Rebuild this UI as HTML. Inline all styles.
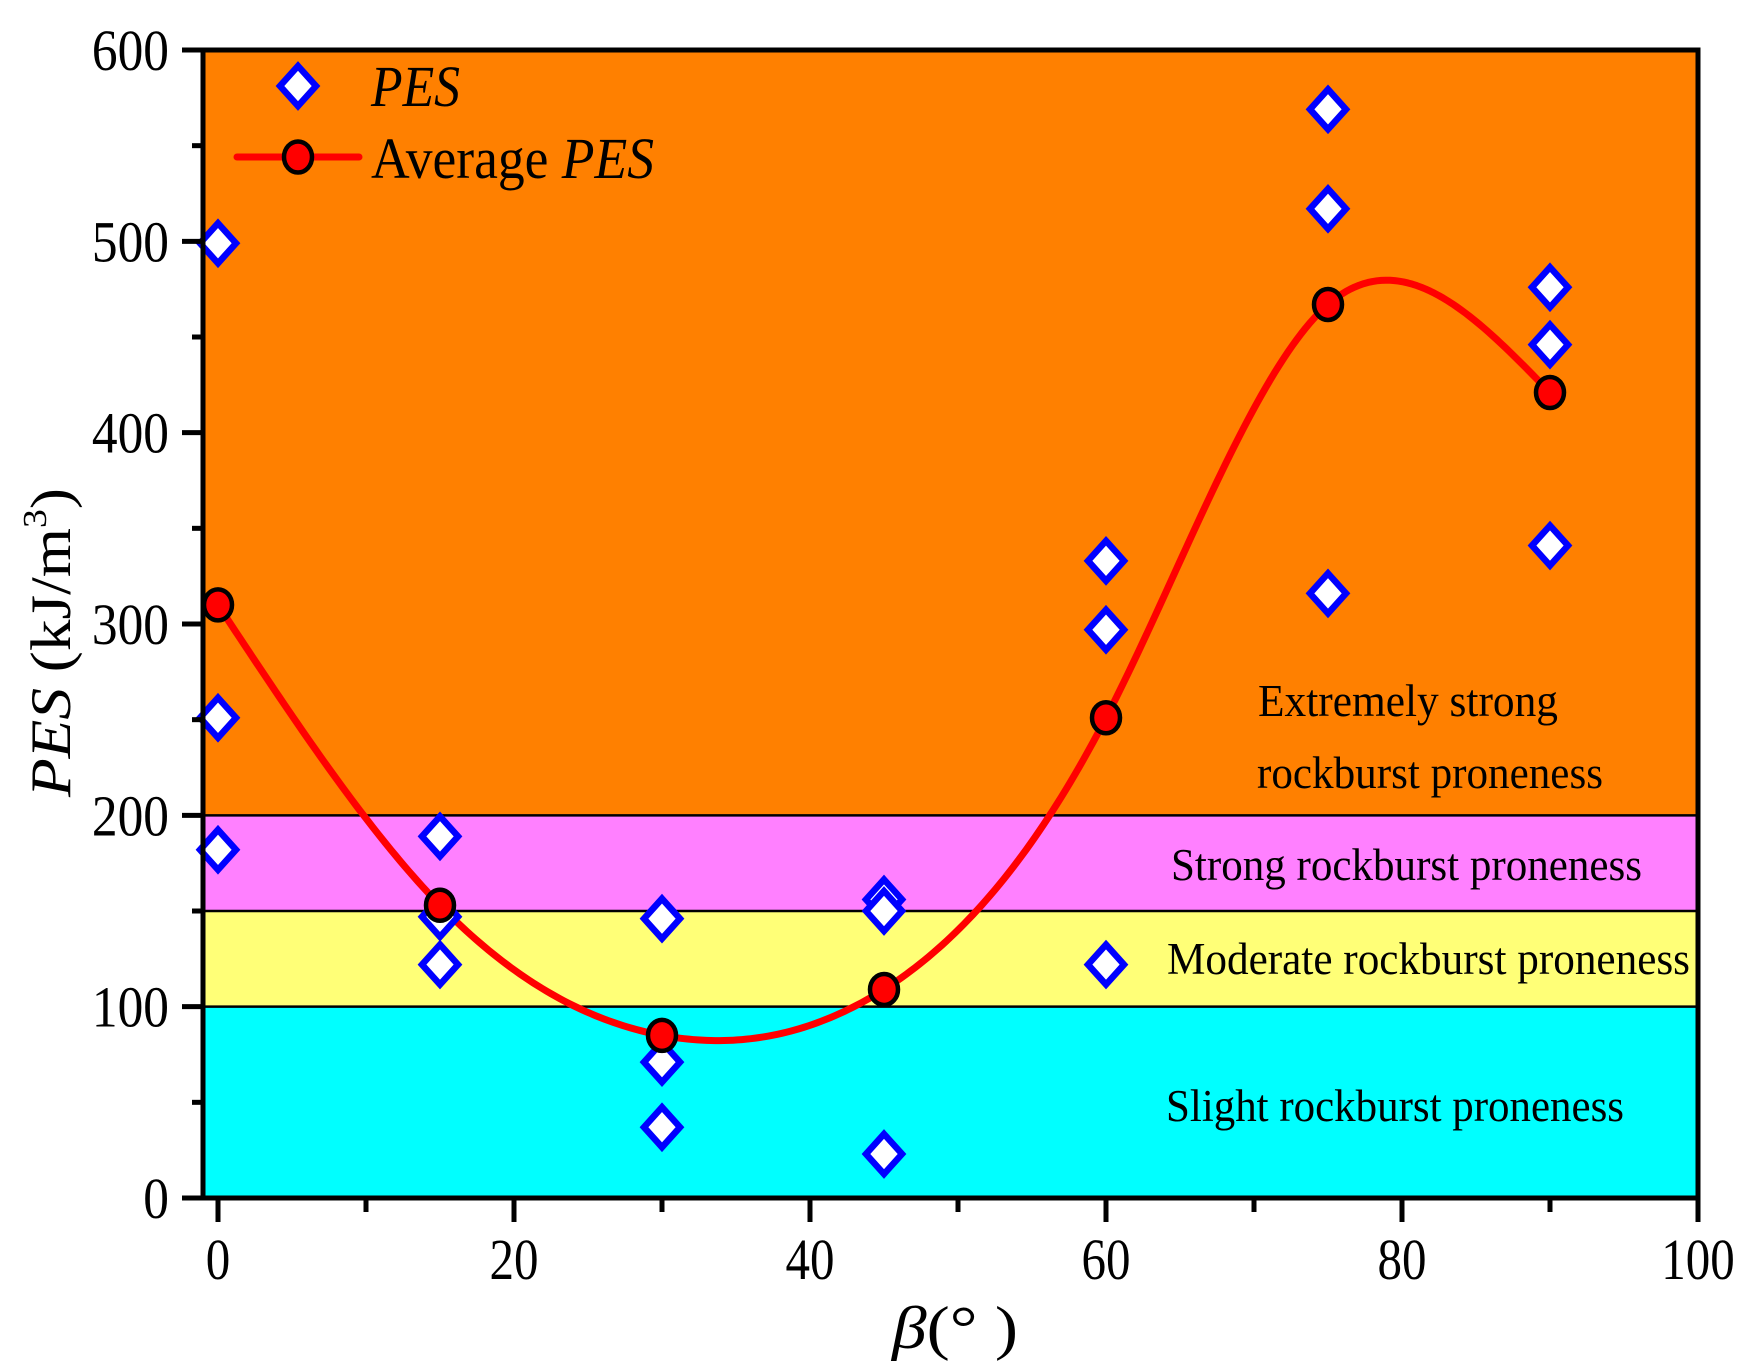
<!DOCTYPE html>
<html><head><meta charset="utf-8"><style>
html,body{margin:0;padding:0;background:#fff;width:1750px;height:1364px;overflow:hidden}
svg{display:block}
text{font-family:"Liberation Serif",serif;fill:#000}
</style></head><body>
<svg id="chart" width="1750" height="1364" viewBox="0 0 1750 1364" xmlns="http://www.w3.org/2000/svg">
<g id="bands"></g>
<g id="curve"></g>
<g id="points"></g>
<g id="axes"></g>
<g id="labels"></g>
</svg>
<script>
const categories = [0, 15, 30, 45, 60, 75, 90];
const pesSample1 = [499, 189, 146, 156, 333, 569, 476];
const pesSample2 = [251, 147, 71, 150, 297, 517, 446];
const pesSample3 = [182, 122, 37, 23, 122, 316, 341];
const averagePes = [310, 153, 85, 109, 251, 467, 421];
const bandBounds = [0, 100, 150, 200, 600];
const bandColors = ['#00ffff', '#ffff77', '#ff80ff', '#ff8000'];
const xTicks = [0, 20, 40, 60, 80, 100];
const yTicks = [0, 100, 200, 300, 400, 500, 600];

const NS = 'http://www.w3.org/2000/svg';
const X0 = 203, X1 = 1698, TOP = 50, BOT = 1198;
function xs(v){ return 218 + v * 14.8; }
function ys(v){ return BOT - v * (BOT - TOP) / 600; }
function mk(tag, attrs, parent){
  const e = document.createElementNS(NS, tag);
  for (const k in attrs) e.setAttribute(k, attrs[k]);
  parent.appendChild(e);
  return e;
}
const gB = document.getElementById('bands'), gC = document.getElementById('curve'),
      gP = document.getElementById('points'), gA = document.getElementById('axes'),
      gL = document.getElementById('labels');

const bandNames = ['band-slight', 'band-moderate', 'band-strong', 'band-extremely-strong'];
for (let i = 0; i < bandColors.length; i++) {
  const r = mk('rect', {x: X0, y: ys(bandBounds[i+1]), width: X1 - X0, height: ys(bandBounds[i]) - ys(bandBounds[i+1]), fill: bandColors[i]}, gB);
  
  
  if (i > 0) {
    const l = mk('line', {x1: X0, x2: X1, y1: ys(bandBounds[i]), y2: ys(bandBounds[i]), stroke: '#000', 'stroke-width': 2.5}, gB);
    
    
  }
}

function spline(xv, yv){
  const n = xv.length, h = [], al = [0], l = [1], mu = [0], z = [0], c = new Array(n).fill(0), b = [], d = [];
  for (let i = 0; i < n - 1; i++) h.push(xv[i+1] - xv[i]);
  for (let i = 1; i < n - 1; i++) al.push(3/h[i]*(yv[i+1]-yv[i]) - 3/h[i-1]*(yv[i]-yv[i-1]));
  for (let i = 1; i < n - 1; i++) {
    l[i] = 2*(xv[i+1]-xv[i-1]) - h[i-1]*mu[i-1];
    mu[i] = h[i]/l[i];
    z[i] = (al[i] - h[i-1]*z[i-1]) / l[i];
  }
  z[n-1] = 0;
  for (let j = n - 2; j >= 0; j--) {
    c[j] = z[j] - mu[j]*c[j+1];
    b[j] = (yv[j+1]-yv[j])/h[j] - h[j]*(c[j+1]+2*c[j])/3;
    d[j] = (c[j+1]-c[j])/(3*h[j]);
  }
  return function(x){
    let j = 0;
    for (let k = 0; k < n - 1; k++) if (x >= xv[k] && x <= xv[k+1]) { j = k; break; }
    const t = x - xv[j];
    return yv[j] + b[j]*t + c[j]*t*t + d[j]*t*t*t;
  };
}
const sp = spline(categories, averagePes);
let dpath = '';
const xa = categories[0], xb = categories[categories.length-1];
for (let i = 0; i <= 300; i++) {
  const x = xa + (xb - xa) * i / 300;
  dpath += (i ? 'L' : 'M') + xs(x).toFixed(2) + ' ' + ys(sp(x)).toFixed(2);
}
const curve = mk('path', {d: dpath, fill: 'none', stroke: '#ff0000', 'stroke-width': 7, 'stroke-linejoin': 'round'}, gC);



function diamond(cx, cy, parent){
  return mk('path', {d: `M${cx} ${cy-20}L${cx+18} ${cy}L${cx} ${cy+20}L${cx-18} ${cy}Z`, fill: '#fff', stroke: '#0000ff', 'stroke-width': 6.5, 'stroke-linejoin': 'miter'}, parent);
}
function dot(cx, cy, parent){
  return mk('ellipse', {cx: cx, cy: cy, rx: 14, ry: 15.5, fill: '#ff0000', stroke: '#000', 'stroke-width': 4.5}, parent);
}
[pesSample1, pesSample2, pesSample3].forEach(arr => {
  arr.forEach((v, i) => {
    const d = diamond(xs(categories[i]), ys(v), gP);
    
    
  });
});
averagePes.forEach((v, i) => {
  const c = dot(xs(categories[i]), ys(v), gP);
  
  
});

const frame = mk('rect', {x: X0, y: TOP, width: X1 - X0, height: BOT - TOP, fill: 'none', stroke: '#000', 'stroke-width': 5}, gA);


for (let v = 0; v <= 600; v += 50) {
  const major = v % 100 === 0;
  const t = mk('line', {x1: major ? 182 : 192, x2: X0, y1: ys(v), y2: ys(v), stroke: '#000', 'stroke-width': 5}, gA);
  
  
}
for (let v = 0; v <= 100; v += 10) {
  const major = v % 20 === 0;
  const t = mk('line', {x1: xs(v), x2: xs(v), y1: BOT, y2: BOT + (major ? 24 : 14), stroke: '#000', 'stroke-width': 5}, gA);
  
  
}
function txt(s, x, y, size, len, anchor, parent){
  const t = mk('text', {x: x, y: y, 'font-size': size, 'text-anchor': anchor || 'start'}, parent);
  if (len) { t.setAttribute('textLength', len); t.setAttribute('lengthAdjust', 'spacingAndGlyphs'); }
  t.textContent = s;
  return t;
}
yTicks.forEach(v => {
  const s = String(v);
  const t = txt(s, 169, ys(v) + 20, 58, s.length * 25.7, 'end', gL);
  
  
});
xTicks.forEach(v => {
  const s = String(v);
  const t = txt(s, xs(v), 1279, 58, s.length * 24.5, 'middle', gL);
  
  
});
</script>
<svg style="position:absolute;left:0;top:0" width="1750" height="1364" xmlns="http://www.w3.org/2000/svg">
  <g>
    <path d="M298 66L316 86L298 106L280 86Z" fill="#fff" stroke="#0000ff" stroke-width="6.5"/>
    <text x="371" y="106" font-size="58" font-style="italic" textLength="89" lengthAdjust="spacingAndGlyphs" style="font-family:'Liberation Serif',serif">PES</text>
    <line x1="237" y1="157" x2="359" y2="157" stroke="#ff0000" stroke-width="7" stroke-linecap="round"/>
    <ellipse cx="298" cy="157" rx="14" ry="15.5" fill="#ff0000" stroke="#000" stroke-width="4.5"/>
    <text x="371" y="178" font-size="58" textLength="283" lengthAdjust="spacingAndGlyphs" style="font-family:'Liberation Serif',serif">Average <tspan font-style="italic">PES</tspan></text>
  </g>
  <g style="font-family:'Liberation Serif',serif">
    <text x="1258" y="716" font-size="45" textLength="300" lengthAdjust="spacingAndGlyphs">Extremely strong</text>
    <text x="1257" y="788" font-size="45" textLength="346" lengthAdjust="spacingAndGlyphs">rockburst proneness</text>
    <text x="1171" y="880" font-size="45" textLength="471" lengthAdjust="spacingAndGlyphs">Strong rockburst proneness</text>
    <text x="1167" y="974" font-size="45" textLength="523" lengthAdjust="spacingAndGlyphs">Moderate rockburst proneness</text>
    <text x="1166" y="1121" font-size="45" textLength="458" lengthAdjust="spacingAndGlyphs">Slight rockburst proneness</text>
    <text x="892" y="1348" font-size="60" textLength="126" lengthAdjust="spacingAndGlyphs"><tspan font-style="italic">β</tspan>(°  )</text>
    <text transform="translate(70,797) rotate(-90)" x="0" y="0" font-size="57" textLength="309" lengthAdjust="spacingAndGlyphs"><tspan font-style="italic">PES</tspan> (kJ/m<tspan font-size="34" dy="-24">3</tspan><tspan dy="24">)</tspan></text>
  </g>
</svg>
</body></html>
